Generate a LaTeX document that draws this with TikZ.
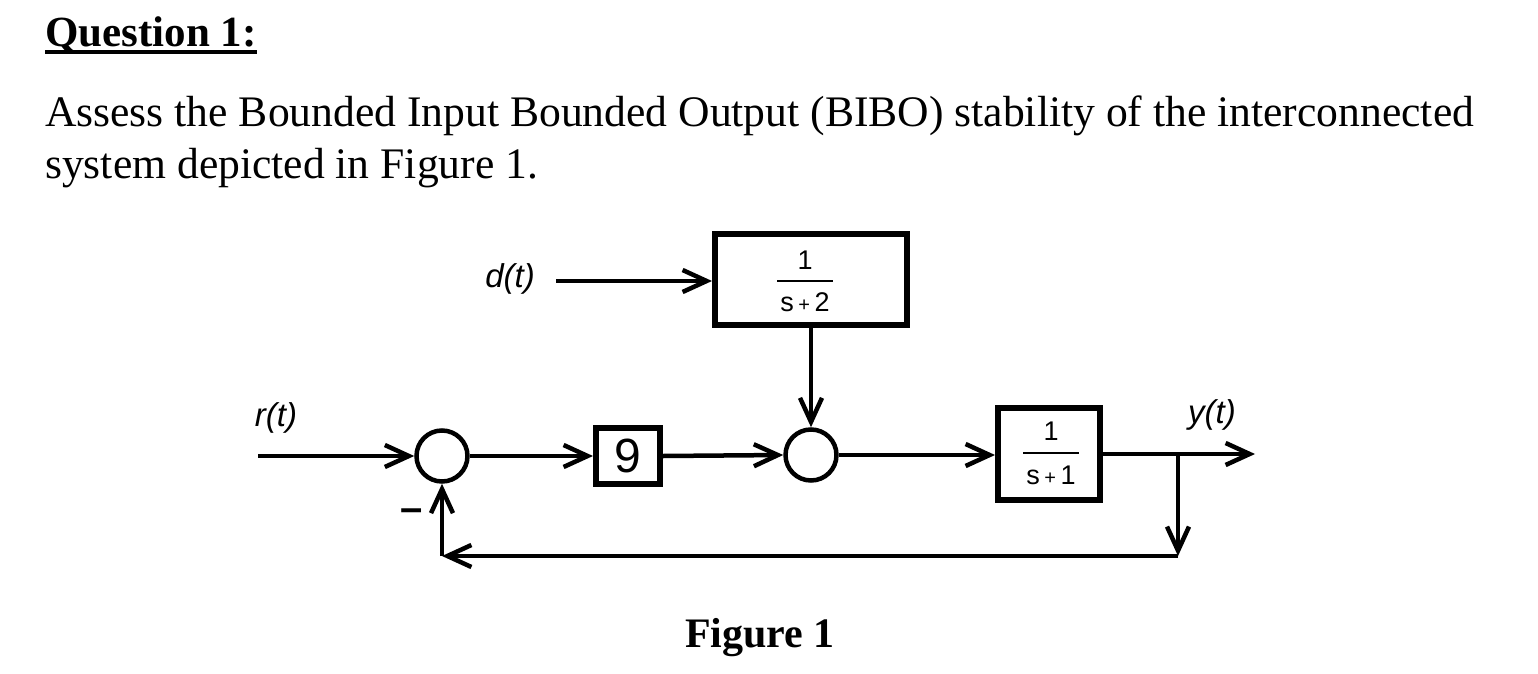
\documentclass[tikz,border=0pt]{standalone}
\usepackage{fontspec}
\setmainfont{Liberation Serif}
\newfontfamily\diagfont{Liberation Sans}
\usetikzlibrary{arrows.meta}
\begin{document}
\begin{tikzpicture}[x=1pt,y=-1pt,
  conn/.style={line width=4.5pt,-{Straight Barb[length=24pt,width=22pt,line width=4.5pt]}},
  sumnode/.style={circle,draw,line width=4.5pt,minimum size=51pt,inner sep=0pt},
  blockbig/.style={rectangle,draw,line width=6pt,inner sep=0pt},
  txt/.style={inner sep=0pt,anchor=base west,font=\fontsize{43.6}{50}\selectfont},
  sig/.style={inner sep=0pt,font=\diagfont\itshape\fontsize{33}{36}\selectfont},
  frac/.style={inner sep=0pt,font=\diagfont\fontsize{27}{29}\selectfont},
  fracline/.style={line width=1.6pt}
]
\useasboundingbox (0,0) rectangle (1538,674);
% text
\node[txt,font=\bfseries\fontsize{43}{50}\selectfont] (title) at (45,47) {Question 1:};
\draw[line width=3.5pt] ([yshift=-5pt]title.base west) -- ([yshift=-5pt]title.base east);
\node[txt] (line1) at (45,126) {Assess the Bounded Input Bounded Output (BIBO) stability of the interconnected};
\node[txt] (line2) at (45,178) {system depicted in Figure 1.};
\node[txt,font=\bfseries\fontsize{42}{48}\selectfont] (figcap) at (685,647) {Figure 1};
% blocks
\node[sumnode] (sum1) at (442,456) {};
\node[sumnode] (sum2) at (811,455) {};
\node[blockbig,minimum width=64pt,minimum height=56pt,font=\diagfont\fontsize{48}{50}\selectfont] (gain) at (628,456) {9};
\node[blockbig,minimum width=192pt,minimum height=91pt] (G2) at (811,279.5) {};
\node[blockbig,minimum width=102pt,minimum height=92pt] (G1) at (1049,454) {};
% fractions
\node[frac] (G2num) at (805,260) {1};
\draw[fracline] (777,281) -- (833,281);
\node[frac] (G2den) at (805,302) {s\,{\fontsize{20}{22}\selectfont+}\,2};
\node[frac] (G1num) at (1051,431) {1};
\draw[fracline] (1023,453) -- (1079,453);
\node[frac] (G1den) at (1051,475) {s\,{\fontsize{20}{22}\selectfont+}\,1};
% signal labels
\node[sig] (rlab) at (276,418) {r(t)};
\node[sig] (dlab) at (510,279) {d(t)};
\node[sig] (ylab) at (1212,415) {y(t)};
\node[inner sep=0pt,font=\diagfont\bfseries\fontsize{40}{42}\selectfont] (minus) at (412,515) {–};
% coordinates
\coordinate (rin) at (258,456);
\coordinate (din) at (556,281);
\coordinate (yout) at (1255,454);
\coordinate (br) at (1178,454);
\coordinate (fbR) at (1178,556);
\coordinate (fbL) at (442,556);
% connectors
\draw[conn] (rin) -- (sum1.west);
\draw[conn] (sum1.east) -- (gain.west);
\draw[conn] (gain.east) -- (sum2.west);
\draw[conn] (din) -- (din -| G2.west);
\draw[conn] (G2.south) -- (sum2.north);
\draw[conn] (sum2.east) -- (sum2.east -| G1.west);
\draw[conn] (G1.east) -- (yout);
\draw[conn] (br) -- (fbR);
\draw[conn] (fbR) -- (fbL);
\draw[conn] (fbL) -- (sum1.south);
\end{tikzpicture}
\end{document}
